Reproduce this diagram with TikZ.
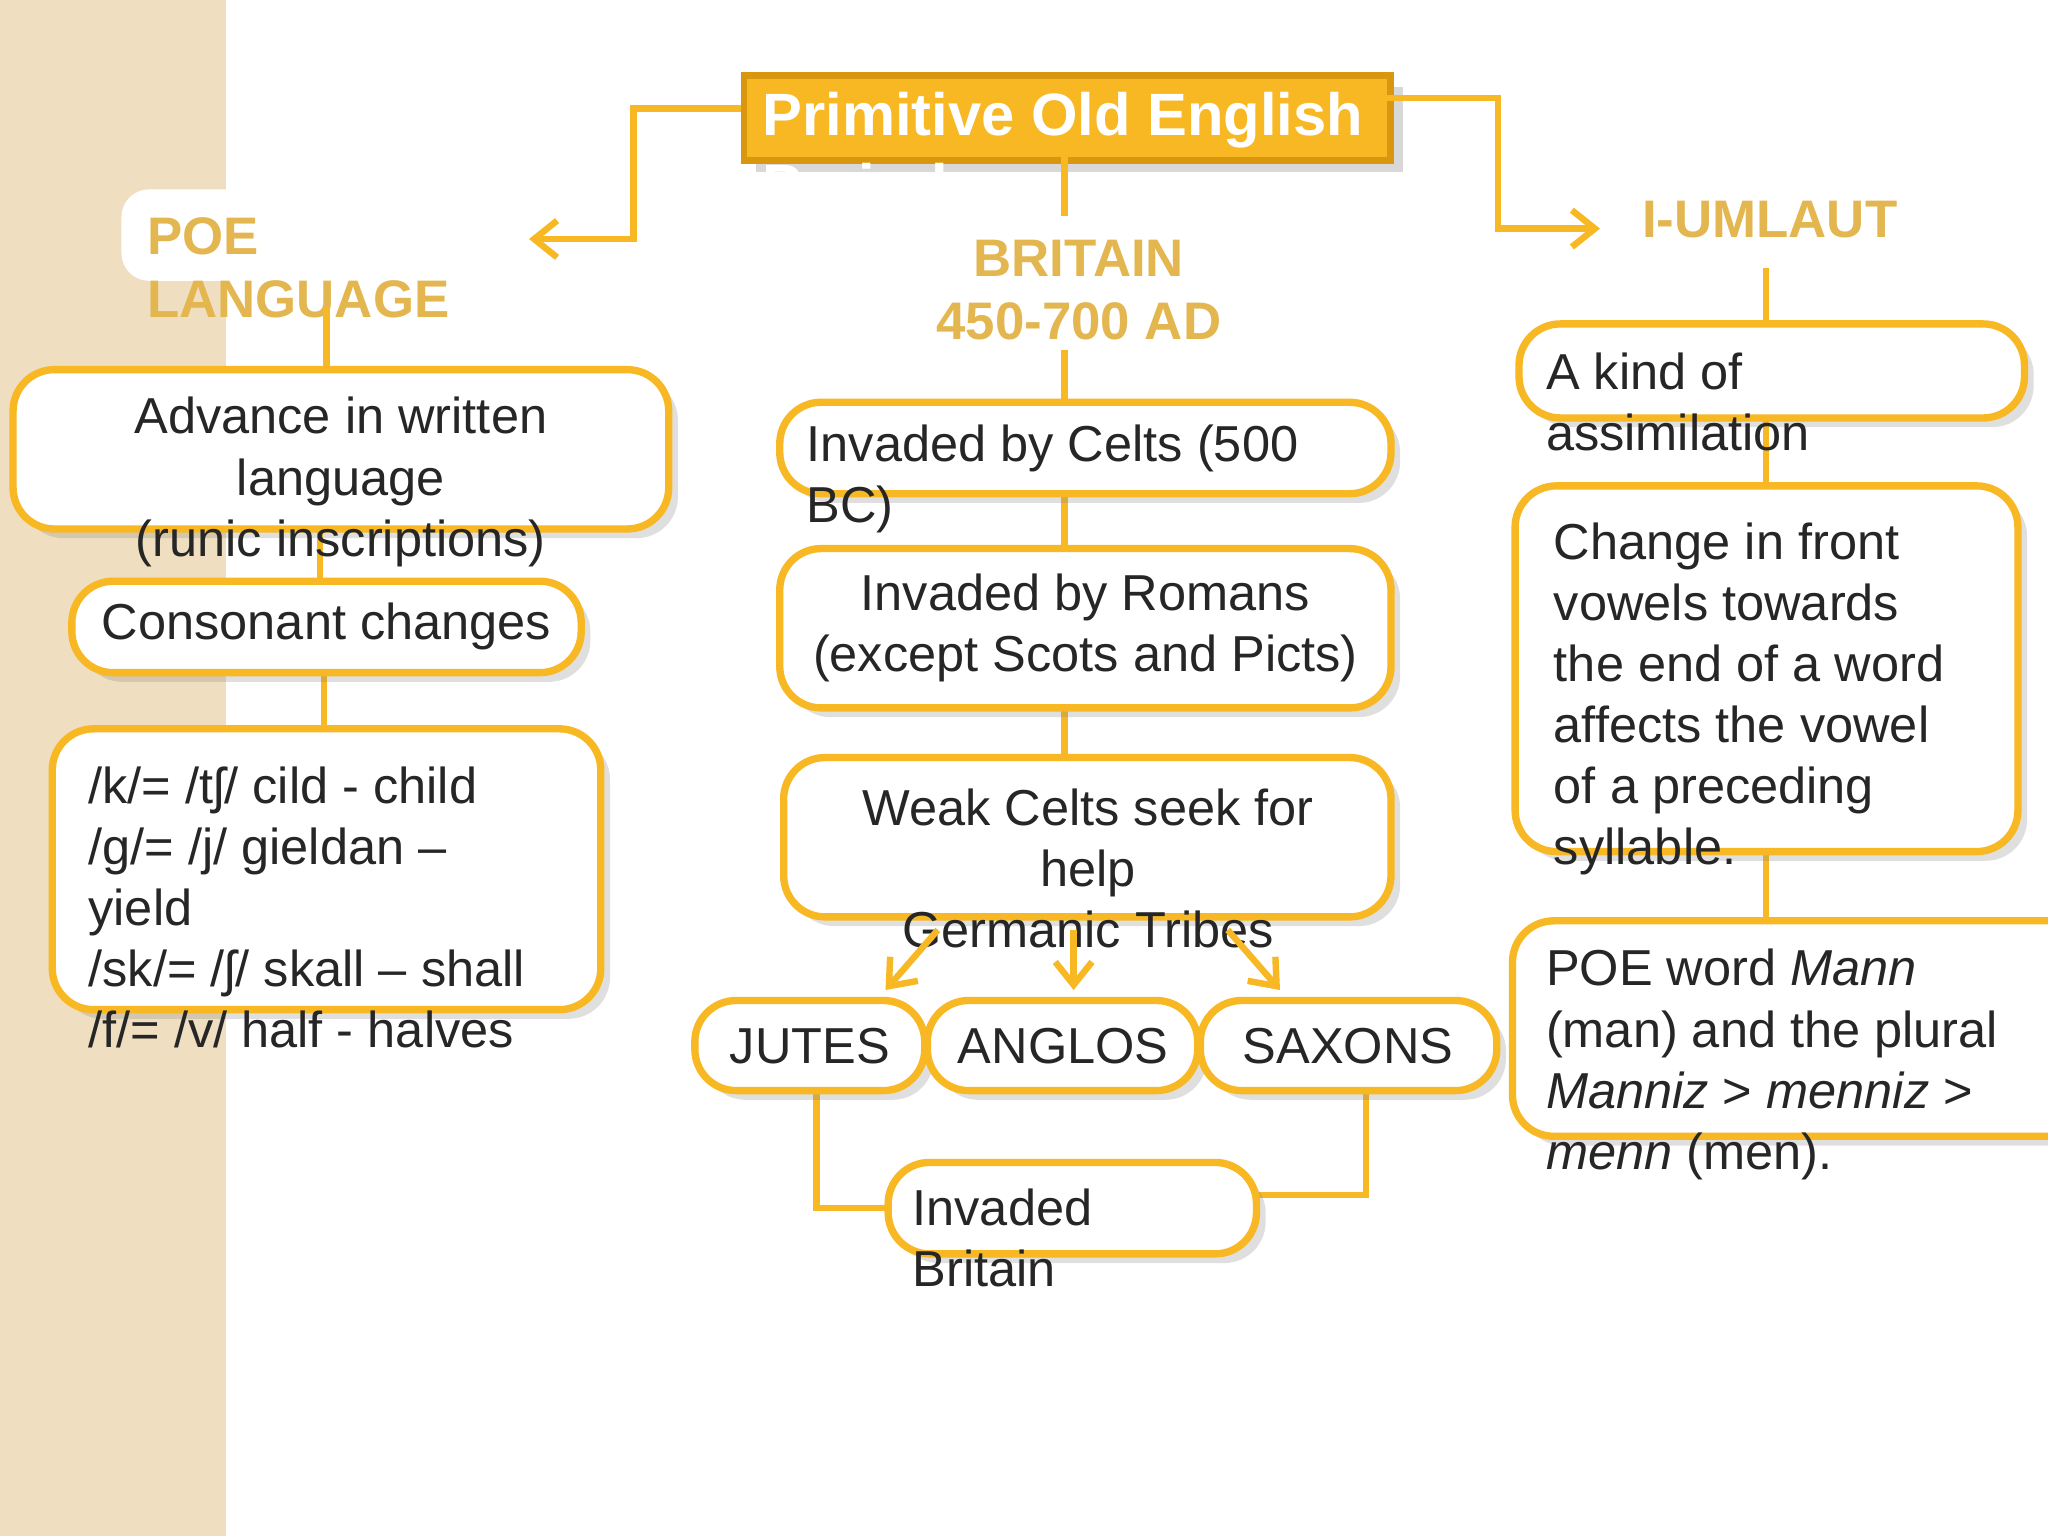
\documentclass[tikz,border=0pt]{standalone}
\usepackage{fontspec}
\setmainfont{Liberation Sans}
\usetikzlibrary{arrows.meta,shadows}
\definecolor{org}{HTML}{F7B824}
\definecolor{orgd}{HTML}{D9960F}
\definecolor{head}{HTML}{E3B650}
\definecolor{strip}{HTML}{EFDFC0}
\begin{document}
\begin{tikzpicture}[x=0.01cm,y=-0.01cm,
  box/.style={draw=org,line width=1.6pt,fill=white,rounded corners=9pt,drop shadow={opacity=0.25,shadow xshift=2pt,shadow yshift=-2pt}},
  txt/.style={inner sep=0pt,font=\fontsize{11}{13.3}\selectfont,text=black!85},
  hd/.style={inner sep=0pt,font=\fontsize{11.5}{13.6}\selectfont\bfseries,text=head,align=left},
  ln/.style={draw=org,line width=1.4pt},
  ar/.style={ln,-{Straight Barb[length=5pt,width=8pt]}}]
\useasboundingbox (0,0) rectangle (1568,1176);
\fill[white] (0,0) rectangle (1568,1176);
\fill[strip] (0,0) rectangle (173,1176);
% title
\node[draw=orgd,line width=1.5pt,fill=org,minimum width=4.95cm,minimum height=0.65cm,anchor=north west,inner sep=0pt,drop shadow={opacity=0.3}] (title) at (567,55) {};
\node[inner sep=0pt,anchor=north west,align=left,text=white,font=\fontsize{13}{15.5}\selectfont\bfseries] (ttext) at (583,70) {Primitive Old English\\Period};
% headings
\fill[white,rounded corners=6pt] (93,145) rectangle (200,215);
\node[hd,anchor=west] (poe) at (112,205) {POE\\LANGUAGE};
\node[hd,align=center] (brit) at (826,222) {BRITAIN\\450-700 AD};
\node[hd] (uml) at (1355,168) {I-UMLAUT};
% top connectors
\coordinate (l1) at (405,183); \coordinate (r1) at (1225,175);
\draw[ar] (567,83) -- (485,83) -- (485,183) -- (l1);
\draw[ar] (1062,75) -- (1147,75) -- (1147,175) -- (r1);
\draw[ln] (815,120) -- (815,165);
% left column
\draw[ln] (250,236) -- (250,283);
\draw[ln] (245,405) -- (245,445);
\draw[ln] (248,515) -- (248,558);
\draw[box] (10,283) rectangle (512,405); \coordinate (adv) at (261,344);
\draw[box] (55,445) rectangle (445,515); \coordinate (cons) at (250,480);
\draw[box] (40,558) rectangle (460,773); \coordinate (list) at (250,665);
\node[txt,align=center] (advt) at (261,369) {Advance in written\\language\\(runic inscriptions)};
\node[txt] (const) at (250,480) {Consonant changes};
\node[txt,align=left,anchor=west] (listt) at (67,695) {/k/= /tʃ/ cild - child\\/g/= /j/ gieldan –\\yield\\/sk/= /ʃ/ skall – shall\\/f/= /v/ half - halves};
% centre column
\draw[ln] (815,268) -- (815,308);
\draw[ln] (815,378) -- (815,420);
\draw[ln] (815,542) -- (815,580);
\draw[ln] (625,835) -- (625,925) -- (680,925);
\draw[ln] (1046,835) -- (1046,915) -- (962,915);
\draw[box] (597,308) rectangle (1065,378);
\draw[box] (597,420) rectangle (1065,542);
\draw[box] (600,580) rectangle (1065,702);
\draw[box] (532,766) rectangle (708,835);
\draw[box] (710,766) rectangle (917,835);
\draw[box] (919,766) rectangle (1146,835);
\draw[box] (680,890) rectangle (962,960);
\node[txt,align=left,anchor=west] (celts) at (617,367) {Invaded by Celts (500\\BC)};
\node[txt,align=center] (rom) at (831,481) {Invaded by Romans\\(except Scots and Picts)};
\node[txt,align=center] (weak) at (833,665) {Weak Celts seek for\\help\\Germanic Tribes};
\node[txt] (jutes) at (620,801) {JUTES};
\node[txt] (ang) at (814,801) {ANGLOS};
\node[txt] (sax) at (1032,801) {SAXONS};
\node[txt,align=left,anchor=west] (inv) at (698,948) {Invaded\\Britain};
\draw[ar] (718,712) -- (678,758);
\draw[ar] (822,712) -- (822,758);
\draw[ar] (940,712) -- (980,758);
% right column
\draw[ln] (1352,205) -- (1352,248);
\draw[ln] (1352,320) -- (1352,372);
\draw[ln] (1352,652) -- (1352,705);
\draw[box] (1163,248) rectangle (1550,320);
\draw[box] (1160,372) rectangle (1545,652);
\draw[box] (1158,705) rectangle (1600,870);
\node[txt,align=left,anchor=west] (kind) at (1183,308) {A kind of\\assimilation};
\node[txt,align=left,anchor=west] (chg) at (1189,535) {Change in front\\vowels towards\\the end of a word\\affects the vowel\\of a preceding\\syllable.};
\node[txt,align=left,anchor=west] (poew) at (1183,815) {POE word \textit{Mann}\\(man) and the plural\\\textit{Manniz} > \textit{menniz} >\\\textit{menn} (men).};
\end{tikzpicture}
\end{document}
